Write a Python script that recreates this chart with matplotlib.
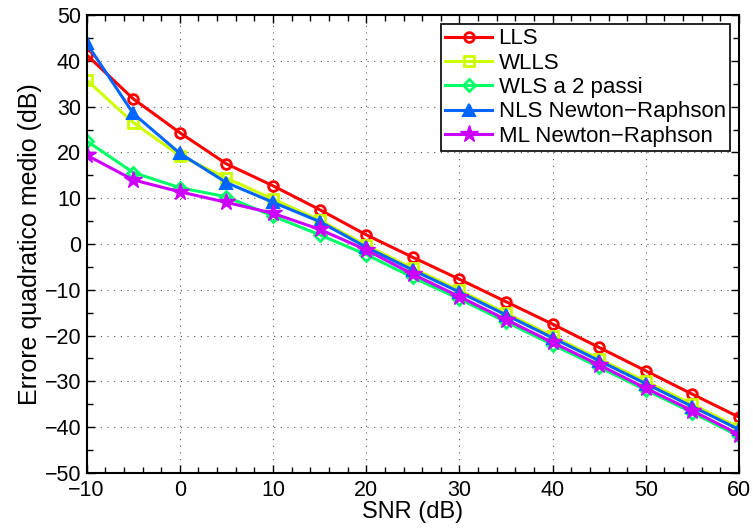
import matplotlib
matplotlib.use('Agg')
import matplotlib.pyplot as plt
import numpy as np
from matplotlib.ticker import MultipleLocator

plt.rcParams['font.family'] = ['Liberation Sans', 'DejaVu Sans']

snr = [-10, -5, 0, 5, 10, 15, 20, 25, 30, 35, 40, 45, 50, 55, 60]

lls = [41.3, 31.7, 24.3, 17.5, 12.7, 7.5, 2.0, -2.9, -7.7, -12.6, -17.5, -22.6, -27.7, -32.8, -37.8]
wlls = [35.8, 26.5, 19.3, 14.4, 9.8, 5.2, -0.3, -5.3, -10.1, -15.1, -20.1, -25.1, -30.0, -35.0, -40.1]
wls2 = [22.5, 15.6, 12.3, 10.3, 6.1, 2.0, -2.3, -7.3, -12.0, -17.0, -22.0, -26.9, -31.9, -36.8, -42.0]
nls = [43.8, 28.5, 19.8, 13.4, 9.1, 4.9, -0.7, -5.7, -10.5, -15.5, -20.5, -25.5, -30.5, -35.5, -40.5]
ml = [19.4, 14.0, 11.4, 9.1, 6.7, 3.2, -1.3, -6.6, -11.5, -16.5, -21.5, -26.4, -31.5, -36.4, -41.6]

labels = ['LLS', 'WLLS', 'WLS a 2 passi', 'NLS Newton\u2212Raphson', 'ML Newton\u2212Raphson']
colors = [(1, 0, 0), (0.8, 1, 0), (0, 1, 0.4), (0, 0.4, 1), (0.8, 0, 1)]

fig = plt.figure(figsize=(7.53, 5.29), dpi=100)
ax = fig.add_axes([0.1151, 0.1059, 0.8663, 0.8657])

lw = 2.2
ax.plot(snr, lls, color=colors[0], lw=lw, marker='o', ms=7, mfc='none', mew=2, label=labels[0])
ax.plot(snr, wlls, color=colors[1], lw=lw, marker='s', ms=7, mfc='none', mew=2, label=labels[1])
ax.plot(snr, wls2, color=colors[2], lw=lw, marker='D', ms=6, mfc='none', mew=2, label=labels[2])
ax.plot(snr, nls, color=colors[3], lw=lw, marker='^', ms=9, mfc=colors[3], mew=1.5, label=labels[3])
ax.plot(snr, ml, color=colors[4], lw=lw, marker='*', ms=13, mfc=colors[4], mew=1, label=labels[4])

ax.set_xlim(-10, 60)
ax.set_ylim(-50, 50)
ax.xaxis.set_major_locator(MultipleLocator(10))
ax.xaxis.set_minor_locator(MultipleLocator(2))
ax.yaxis.set_major_locator(MultipleLocator(10))
ax.yaxis.set_minor_locator(MultipleLocator(5))
ax.tick_params(which='both', direction='in', top=True, right=True, labelsize=15.5)
ax.tick_params(which='major', length=6, width=1)
ax.tick_params(which='minor', length=4, width=1)
ax.tick_params(axis='x', pad=5)
ax.tick_params(axis='y', pad=4)
ax.grid(True, which='major', linestyle=(0, (1, 5)), color='#555555', lw=0.8)
for s in ax.spines.values():
    s.set_linewidth(1.5)

ax.set_xlabel('SNR (dB)', fontsize=17, labelpad=0)
ax.set_ylabel('Errore quadratico medio (dB)', fontsize=18, labelpad=2)

leg = ax.legend(loc='upper right', fontsize=16, fancybox=False, framealpha=1,
                edgecolor='black', borderpad=0.2, labelspacing=0.15, handlelength=2.1,
                handletextpad=0.3, borderaxespad=0.4)
leg.get_frame().set_linewidth(1.2)

fig.savefig('out.png', dpi=100)
